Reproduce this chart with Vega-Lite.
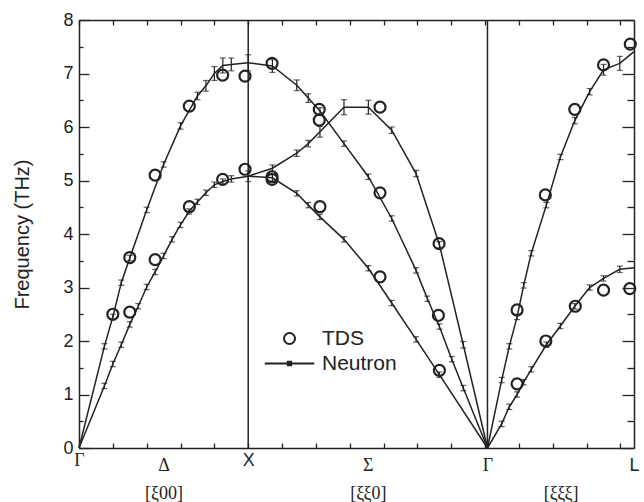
{
  "$schema": "https://vega.github.io/schema/vega-lite/v6.json",
  "width": 555,
  "height": 428,
  "autosize": "none",
  "padding": {"left": 79, "top": 20, "right": 10, "bottom": 54},
  "config": {
    "view": {"stroke": null},
    "font": "Liberation Sans",
    "axis": {"domainColor": "#222", "tickColor": "#222", "labelColor": "#222", "titleColor": "#222", "grid": false, "domainWidth": 1.5, "tickWidth": 1.3, "labelFont": "Liberation Sans", "titleFont": "Liberation Sans", "titleFontWeight": "normal"}
  },
  "datasets": {
    "neutron": [
      {"b": "LA", "x": 0, "y": 0},
      {"b": "LA", "x": 0.15, "y": 1.9, "e": 0.05},
      {"b": "LA", "x": 0.2, "y": 2.45, "e": 0.05},
      {"b": "LA", "x": 0.25, "y": 3.09, "e": 0.05},
      {"b": "LA", "x": 0.3, "y": 3.55, "e": 0.05},
      {"b": "LA", "x": 0.4, "y": 4.45, "e": 0.05},
      {"b": "LA", "x": 0.5, "y": 5.3, "e": 0.05},
      {"b": "LA", "x": 0.6, "y": 6.02, "e": 0.06},
      {"b": "LA", "x": 0.7, "y": 6.58, "e": 0.07},
      {"b": "LA", "x": 0.75, "y": 6.77, "e": 0.1},
      {"b": "LA", "x": 0.8, "y": 7.0, "e": 0.13},
      {"b": "LA", "x": 0.85, "y": 7.15, "e": 0.14},
      {"b": "LA", "x": 0.9, "y": 7.17, "e": 0.12},
      {"b": "LA", "x": 1.0, "y": 7.2, "e": 0.15},
      {"b": "TA", "x": 0, "y": 0},
      {"b": "TA", "x": 0.15, "y": 1.16, "e": 0.05},
      {"b": "TA", "x": 0.2, "y": 1.57, "e": 0.05},
      {"b": "TA", "x": 0.25, "y": 1.93, "e": 0.05},
      {"b": "TA", "x": 0.3, "y": 2.31, "e": 0.05},
      {"b": "TA", "x": 0.35, "y": 2.65, "e": 0.05},
      {"b": "TA", "x": 0.4, "y": 3.01, "e": 0.05},
      {"b": "TA", "x": 0.45, "y": 3.29, "e": 0.05},
      {"b": "TA", "x": 0.5, "y": 3.59, "e": 0.05},
      {"b": "TA", "x": 0.55, "y": 3.9, "e": 0.05},
      {"b": "TA", "x": 0.6, "y": 4.17, "e": 0.05},
      {"b": "TA", "x": 0.65, "y": 4.42, "e": 0.05},
      {"b": "TA", "x": 0.7, "y": 4.6, "e": 0.05},
      {"b": "TA", "x": 0.75, "y": 4.77, "e": 0.05},
      {"b": "TA", "x": 0.8, "y": 4.92, "e": 0.05},
      {"b": "TA", "x": 0.85, "y": 4.98, "e": 0.05},
      {"b": "TA", "x": 0.9, "y": 5.03, "e": 0.06},
      {"b": "TA", "x": 1.0, "y": 5.08, "e": 0.1},
      {"b": "SA", "x": 1.0, "y": 7.2},
      {"b": "SA", "x": 1.143, "y": 7.14, "e": 0.12},
      {"b": "SA", "x": 1.287, "y": 6.78, "e": 0.1},
      {"b": "SA", "x": 1.355, "y": 6.54, "e": 0.08},
      {"b": "SA", "x": 1.424, "y": 6.3, "e": 0.06},
      {"b": "SA", "x": 1.566, "y": 5.69, "e": 0.05},
      {"b": "SA", "x": 1.71, "y": 5.07, "e": 0.05},
      {"b": "SA", "x": 1.848, "y": 4.29, "e": 0.05},
      {"b": "SA", "x": 1.992, "y": 3.32, "e": 0.05},
      {"b": "SA", "x": 2.059, "y": 2.79, "e": 0.05},
      {"b": "SA", "x": 2.13, "y": 2.27, "e": 0.05},
      {"b": "SA", "x": 2.203, "y": 1.66, "e": 0.05},
      {"b": "SA", "x": 2.271, "y": 1.12, "e": 0.05},
      {"b": "SA", "x": 2.414, "y": 0},
      {"b": "SB", "x": 1.0, "y": 5.08},
      {"b": "SB", "x": 1.143, "y": 5.23, "e": 0.06},
      {"b": "SB", "x": 1.287, "y": 5.51, "e": 0.06},
      {"b": "SB", "x": 1.355, "y": 5.69, "e": 0.06},
      {"b": "SB", "x": 1.424, "y": 5.91, "e": 0.1},
      {"b": "SB", "x": 1.566, "y": 6.37, "e": 0.14},
      {"b": "SB", "x": 1.71, "y": 6.37, "e": 0.13},
      {"b": "SB", "x": 1.848, "y": 5.94, "e": 0.06},
      {"b": "SB", "x": 1.992, "y": 5.13, "e": 0.06},
      {"b": "SB", "x": 2.13, "y": 3.8, "e": 0.06},
      {"b": "SB", "x": 2.271, "y": 1.93, "e": 0.06},
      {"b": "SB", "x": 2.414, "y": 0},
      {"b": "SC", "x": 1.0, "y": 5.08},
      {"b": "SC", "x": 1.143, "y": 5.05, "e": 0.06},
      {"b": "SC", "x": 1.287, "y": 4.76, "e": 0.05},
      {"b": "SC", "x": 1.355, "y": 4.54, "e": 0.05},
      {"b": "SC", "x": 1.424, "y": 4.32, "e": 0.05},
      {"b": "SC", "x": 1.566, "y": 3.9, "e": 0.05},
      {"b": "SC", "x": 1.71, "y": 3.36, "e": 0.05},
      {"b": "SC", "x": 1.848, "y": 2.71, "e": 0.05},
      {"b": "SC", "x": 1.992, "y": 2.03, "e": 0.05},
      {"b": "SC", "x": 2.13, "y": 1.37, "e": 0.05},
      {"b": "SC", "x": 2.414, "y": 0},
      {"b": "UL", "x": 2.414, "y": 0},
      {"b": "UL", "x": 2.498, "y": 1.27, "e": 0.05},
      {"b": "UL", "x": 2.543, "y": 1.9, "e": 0.05},
      {"b": "UL", "x": 2.589, "y": 2.45, "e": 0.05},
      {"b": "UL", "x": 2.628, "y": 3.04, "e": 0.05},
      {"b": "UL", "x": 2.673, "y": 3.64, "e": 0.05},
      {"b": "UL", "x": 2.762, "y": 4.54, "e": 0.05},
      {"b": "UL", "x": 2.845, "y": 5.44, "e": 0.05},
      {"b": "UL", "x": 2.93, "y": 6.12, "e": 0.06},
      {"b": "UL", "x": 3.018, "y": 6.66, "e": 0.06},
      {"b": "UL", "x": 3.1, "y": 7.07, "e": 0.1},
      {"b": "UL", "x": 3.196, "y": 7.19, "e": 0.13},
      {"b": "UL", "x": 3.28, "y": 7.41},
      {"b": "LL", "x": 2.414, "y": 0},
      {"b": "LL", "x": 2.498, "y": 0.45, "e": 0.05},
      {"b": "LL", "x": 2.543, "y": 0.77, "e": 0.05},
      {"b": "LL", "x": 2.589, "y": 1.0, "e": 0.05},
      {"b": "LL", "x": 2.628, "y": 1.23, "e": 0.05},
      {"b": "LL", "x": 2.673, "y": 1.47, "e": 0.05},
      {"b": "LL", "x": 2.762, "y": 1.93, "e": 0.05},
      {"b": "LL", "x": 2.845, "y": 2.28, "e": 0.05},
      {"b": "LL", "x": 2.93, "y": 2.65, "e": 0.05},
      {"b": "LL", "x": 3.018, "y": 3.0, "e": 0.05},
      {"b": "LL", "x": 3.1, "y": 3.17, "e": 0.05},
      {"b": "LL", "x": 3.196, "y": 3.34, "e": 0.06},
      {"b": "LL", "x": 3.28, "y": 3.37}
    ],
    "tds": [
      {"k": "TDS", "x": 0.2, "y": 2.5},
      {"k": "TDS", "x": 0.3, "y": 3.56},
      {"k": "TDS", "x": 0.3, "y": 2.54},
      {"k": "TDS", "x": 0.45, "y": 5.1},
      {"k": "TDS", "x": 0.45, "y": 3.52},
      {"k": "TDS", "x": 0.652, "y": 6.39},
      {"k": "TDS", "x": 0.652, "y": 4.51},
      {"k": "TDS", "x": 0.849, "y": 6.97},
      {"k": "TDS", "x": 0.849, "y": 5.02},
      {"k": "TDS", "x": 0.981, "y": 6.95},
      {"k": "TDS", "x": 0.981, "y": 5.21},
      {"k": "TDS", "x": 1.141, "y": 7.19},
      {"k": "TDS", "x": 1.141, "y": 5.07},
      {"k": "TDS", "x": 1.141, "y": 5.02},
      {"k": "TDS", "x": 1.42, "y": 6.33},
      {"k": "TDS", "x": 1.42, "y": 6.13},
      {"k": "TDS", "x": 1.424, "y": 4.51},
      {"k": "TDS", "x": 1.779, "y": 6.37},
      {"k": "TDS", "x": 1.779, "y": 4.77},
      {"k": "TDS", "x": 1.779, "y": 3.2},
      {"k": "TDS", "x": 2.128, "y": 3.82},
      {"k": "TDS", "x": 2.124, "y": 2.48},
      {"k": "TDS", "x": 2.13, "y": 1.45},
      {"k": "TDS", "x": 2.589, "y": 2.58},
      {"k": "TDS", "x": 2.589, "y": 1.2},
      {"k": "TDS", "x": 2.756, "y": 4.73},
      {"k": "TDS", "x": 2.759, "y": 2.0},
      {"k": "TDS", "x": 2.93, "y": 6.33},
      {"k": "TDS", "x": 2.933, "y": 2.65},
      {"k": "TDS", "x": 3.1, "y": 7.16},
      {"k": "TDS", "x": 3.1, "y": 2.95},
      {"k": "TDS", "x": 3.258, "y": 7.55},
      {"k": "TDS", "x": 3.255, "y": 2.98}
    ],
    "points": [{"p": "X", "x": 1.0}, {"p": "Γ", "x": 2.414}]
  },
  "resolve": {"axis": {"x": "independent", "y": "independent"}},
  "layer": [
    {
      "data": {"name": "neutron"},
      "mark": {"type": "line", "color": "#222", "strokeWidth": 1.5},
      "encoding": {
        "x": {
          "field": "x", "type": "quantitative",
          "scale": {"domain": [0, 3.28], "nice": false, "zero": false},
          "axis": {
            "orient": "bottom", "title": null,
            "values": [0, 0.2, 0.4, 0.5, 0.6, 0.8, 1.0, 1.2, 1.4, 1.6, 1.707, 1.8, 2.0, 2.2, 2.4, 2.414, 2.6, 2.8, 2.847, 3.0, 3.2, 3.28],
            "labelExpr": "datum.value == 0 ? 'Γ' : datum.value == 0.5 ? ['Δ', '[ξ00]'] : datum.value == 1 ? 'X' : datum.value == 1.707 ? ['Σ', '[ξξ0]'] : datum.value == 2.414 ? 'Γ' : datum.value == 2.847 ? ['', '[ξξξ]'] : datum.value == 3.28 ? 'L' : ''",
            "tickSize": {"condition": {"test": "indexof([0.5, 1.707, 2.414, 2.847, 3.28], datum.value) >= 0", "value": 0}, "value": -5},
            "labelFont": {"condition": {"test": "datum.value == 1 || datum.value == 3.28", "value": "Liberation Sans"}, "value": "Liberation Serif"},
            "labelFontSize": 18,
            "labelLineHeight": 28,
            "labelPadding": 8,
            "labelOverlap": false,
            "labelFlush": false,
            "labelBound": false
          }
        },
        "y": {
          "field": "y", "type": "quantitative",
          "scale": {"domain": [0, 8], "nice": false},
          "axis": {
            "orient": "left", "title": "Frequency (THz)",
            "values": [0, 0.5, 1, 1.5, 2, 2.5, 3, 3.5, 4, 4.5, 5, 5.5, 6, 6.5, 7, 7.5, 8],
            "labelExpr": "datum.value % 1 == 0 ? format(datum.value, 'd') : ''",
            "tickSize": {"condition": {"test": "datum.value % 1 == 0", "value": -10}, "value": -4},
            "labelFontSize": 18,
            "labelPadding": 16,
            "labelOverlap": false,
            "labelFlush": false,
            "titleFontSize": 20,
            "titlePadding": 30
          }
        },
        "detail": {"field": "b"}
      }
    },
    {
      "data": {"name": "tds"},
      "mark": {"type": "point", "filled": false, "color": "#222", "strokeWidth": 2.2, "size": 121, "opacity": 1},
      "encoding": {
        "x": {
          "field": "x", "type": "quantitative",
          "axis": {"orient": "top", "title": null, "labels": false,
            "values": [0, 0.2, 0.4, 0.6, 0.8, 1.0, 1.2, 1.4, 1.6, 1.8, 2.0, 2.2, 2.4, 2.6, 2.8, 3.0, 3.2],
            "tickSize": -5}
        },
        "y": {
          "field": "y", "type": "quantitative",
          "axis": {"orient": "right", "title": null, "labels": false,
            "values": [0, 0.5, 1, 1.5, 2, 2.5, 3, 3.5, 4, 4.5, 5, 5.5, 6, 6.5, 7, 7.5, 8],
            "tickSize": {"condition": {"test": "datum.value % 1 == 0", "value": -12}, "value": -7}}
        },
        "shape": {
          "field": "k", "type": "nominal",
          "scale": {"domain": ["TDS", "Neutron"], "range": ["M1,0A1,1 0 1,1 -1,0A1,1 0 1,1 1,0Z", "M-4.5,0H4.5M-0.3,-0.3H0.3V0.3H-0.3Z"]},
          "legend": {
            "title": null, "orient": "none", "legendX": 200, "legendY": 308,
            "symbolSize": 121, "symbolStrokeWidth": 2, "symbolStrokeColor": "#222", "symbolFillColor": "transparent",
            "labelFontSize": 21, "labelColor": "#222", "labelFont": "Liberation Sans", "labelOffset": 22, "rowPadding": 3
          }
        }
      }
    },
    {
      "data": {"name": "neutron"},
      "transform": [{"filter": "datum.e > 0"}],
      "mark": {"type": "errorbar", "ticks": {"size": 6, "thickness": 1.2}, "thickness": 1.2, "color": "#222"},
      "encoding": {
        "x": {"field": "x", "type": "quantitative", "axis": null},
        "y": {"field": "y", "type": "quantitative", "axis": null},
        "yError": {"field": "e"}
      }
    },
    {
      "data": {"name": "points"},
      "mark": {"type": "rule", "color": "#222", "strokeWidth": 1.5},
      "encoding": {
        "x": {"field": "x", "type": "quantitative", "axis": null}
      }
    }
  ]
}
